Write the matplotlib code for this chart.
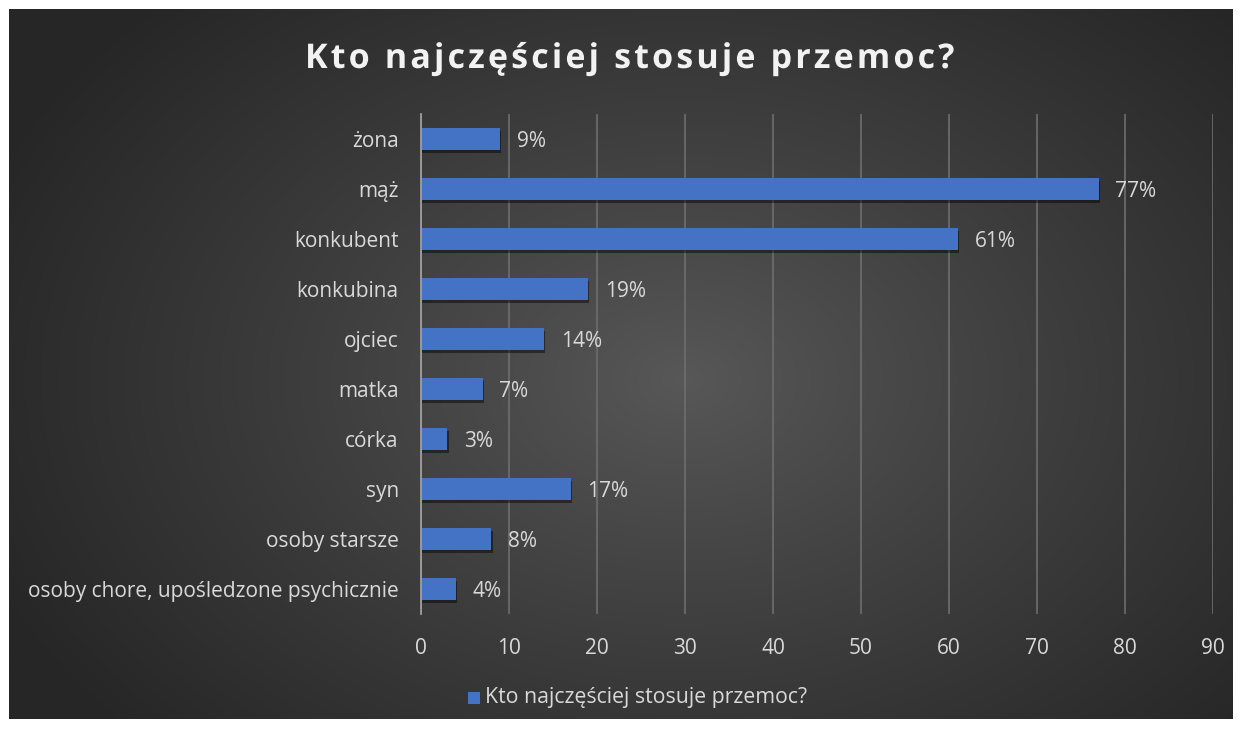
import numpy as np
import matplotlib
matplotlib.use("Agg")
import matplotlib.pyplot as plt
import matplotlib.patheffects as pe
from matplotlib.patches import Rectangle
from matplotlib import font_manager
from matplotlib.ft2font import FT2Font

categories = ["żona", "mąż", "konkubent", "konkubina", "ojciec", "matka",
              "córka", "syn", "osoby starsze", "osoby chore, upośledzone psychicznie"]
values = [9, 77, 61, 19, 14, 7, 3, 17, 8, 4]
labels = ["9%", "77%", "61%", "19%", "14%", "7%", "3%", "17%", "8%", "4%"]
xticks = [0, 10, 20, 30, 40, 50, 60, 70, 80, 90]
title = "Kto najczęściej stosuje przemoc?"
series_name = "Kto najczęściej stosuje przemoc?"

W, H = 1242, 729
DPI = 100
fig = plt.figure(figsize=(W / DPI, H / DPI), dpi=DPI, facecolor="white")
TXT = "#d9d9d9"
BAR = "#4472c4"
FS = 15

# background panel with radial gradient
x0, y0, x1, y1 = 9, 9, 1233, 719
bg = fig.add_axes([x0 / W, 1 - y1 / H, (x1 - x0) / W, (y1 - y0) / H])
bg.set_axis_off()
ny, nx = 300, 520
yy, xx = np.mgrid[0:ny, 0:nx]
cx, cy = nx * 0.55, ny * 0.52
r = np.sqrt(((xx - cx) / (nx * 0.62)) ** 2 + ((yy - cy) / (ny * 0.75)) ** 2)
r = np.clip(r, 0, 1)
inner = np.array([0x58, 0x58, 0x58]) / 255
outer = np.array([0x26, 0x26, 0x26]) / 255
img = inner[None, None, :] * (1 - r[..., None] ** 0.9) + outer[None, None, :] * (r[..., None] ** 0.9)
bg.imshow(img, aspect="auto", extent=[0, 1, 0, 1], interpolation="bilinear")
bg.set_xlim(0, 1)
bg.set_ylim(0, 1)

# main axes
left, right, top, bottom = 421, 1213, 114, 614
ax = fig.add_axes([left / W, 1 - bottom / H, (right - left) / W, (bottom - top) / H])
ax.patch.set_alpha(0)
y = np.arange(len(categories))
ax.barh(y, values, height=0.45, color=BAR, zorder=3,
        path_effects=[pe.withSimplePatchShadow(offset=(0.8, -2), shadow_rgbFace="black", alpha=0.45)])
ax.set_ylim(len(categories) - 0.5, -0.5)
ax.set_xlim(0, 90)
ax.set_xticks(xticks)
ax.set_xticklabels([str(t) for t in xticks])
ax.set_yticks(y)
ax.set_yticklabels(categories)
ax.tick_params(axis="both", length=0, colors=TXT, labelsize=FS)
ax.tick_params(axis="x", pad=17)
ax.tick_params(axis="y", pad=16)
for lab in ax.get_xticklabels() + ax.get_yticklabels():
    lab.set_fontfamily("Open Sans")
    lab.set_color(TXT)
ax.grid(axis="x", color="#6e6e6e", linewidth=1.2, zorder=0)
ax.grid(axis="y", visible=False)
for s in ["top", "right", "bottom"]:
    ax.spines[s].set_visible(False)
ax.spines["left"].set_color("#a6a6a6")
ax.spines["left"].set_linewidth(1.2)
ax.spines["left"].set_zorder(4)

for yi, v, lab in zip(y, values, labels):
    ax.annotate(lab, (v, yi), xytext=(12, -1.5), textcoords="offset points",
                va="center", ha="left", color=TXT, fontsize=FS,
                fontfamily="Open Sans")

# letter-spaced title
tfs = 24.5
fp = font_manager.FontProperties(family="Open Sans", weight="bold")
ft = FT2Font(font_manager.findfont(fp))
ft.set_size(tfs, DPI)
advs = []
for ch in title:
    g = ft.load_char(ord(ch))
    advs.append(g.linearHoriAdvance / 65536.0)
t_left, t_right, t_base = 305, 952, 68
nat = sum(advs[:-1]) + advs[-1] * 0.85
extra = (t_right - t_left - nat) / (len(title) - 1)
xpos = t_left
for ch, a in zip(title, advs):
    fig.text(xpos / W, 1 - t_base / H, ch, ha="left", va="baseline", color="#f2f2f2",
             fontsize=tfs, fontweight="bold", fontfamily="Open Sans",
             path_effects=[pe.SimpleLineShadow(offset=(1.5, -1.5), shadow_color="black", alpha=0.5),
                           pe.Normal()])
    xpos += a + extra

# legend
lx = 468
ly = 1 - 698 / H
fig.patches.append(Rectangle((lx / W, ly - 6 / H), 12 / W, 12 / H, transform=fig.transFigure,
                             facecolor=BAR, edgecolor="none"))
fig.text((lx + 17) / W, ly, series_name, ha="left", va="center", color=TXT,
         fontsize=15.3, fontfamily="Open Sans")

fig.savefig("out.png", dpi=DPI, facecolor="white")
